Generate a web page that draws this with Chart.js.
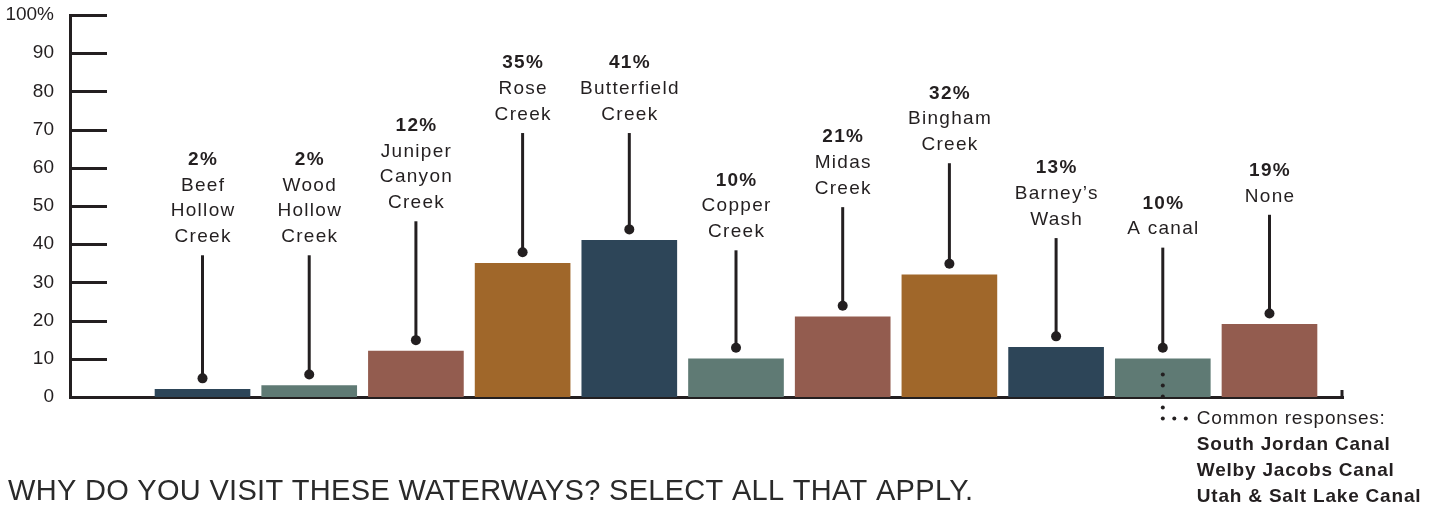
<!DOCTYPE html>
<html lang="en">
<head>
  <meta charset="UTF-8">
  <title>Why do you visit these waterways?</title>
  <script src="https://cdn.jsdelivr.net/npm/chart.js"></script>
  <style>
    body { margin: 0; background: #fff; }
  </style>
</head>
<body>
  <canvas id="waterwayChart" width="1438" height="508"></canvas>

  <script>
    // survey data
    const waterways = [
      ['Beef', 'Hollow', 'Creek'],
      ['Wood', 'Hollow', 'Creek'],
      ['Juniper', 'Canyon', 'Creek'],
      ['Rose', 'Creek'],
      ['Butterfield', 'Creek'],
      ['Copper', 'Creek'],
      ['Midas', 'Creek'],
      ['Bingham', 'Creek'],
      ['Barney\u2019s', 'Wash'],
      ['A canal'],
      ['None']
    ];
    const shares = [2, 3, 12, 35, 41, 10, 21, 32, 13, 10, 19];
    const shareLabels = ['2%', '2%', '12%', '35%', '41%', '10%', '21%', '32%', '13%', '10%', '19%'];
    // where each leader line starts (in % units on the value axis)
    const leaderTops = [37.1, 37.1, 46.0, 69.1, 69.1, 38.4, 49.7, 61.2, 41.6, 39.1, 47.7];
    const barColors = ['#2d4558', '#5f7a74', '#935c4f', '#a0672a', '#2d4558', '#5f7a74',
                       '#935c4f', '#a0672a', '#2d4558', '#5f7a74', '#935c4f'];
    const yTicks = [0, 10, 20, 30, 40, 50, 60, 70, 80, 90, 100];
    const canalIndex = 9;
    const canalNote = 'Common responses:';
    const canals = ['South Jordan Canal', 'Welby Jacobs Canal', 'Utah & Salt Lake Canal'];
    const question = 'WHY DO YOU VISIT THESE WATERWAYS? SELECT ALL THAT APPLY.';

    const ink = '#231f20';
    const face = '"Liberation Sans", Arial, sans-serif';

    const annotate = {
      id: 'annotate',
      afterDraw(chart) {
        const { ctx, scales: { x, y } } = chart;
        const base = y.getPixelForValue(0);
        ctx.save();
        ctx.strokeStyle = ink;
        ctx.fillStyle = ink;
        ctx.lineWidth = 3;

        // tick marks pointing into the plot
        yTicks.forEach(v => {
          const py = Math.round(y.getPixelForValue(v)) + 0.5;
          ctx.beginPath();
          ctx.moveTo(x.left, py);
          ctx.lineTo(x.left + 37, py);
          ctx.stroke();
        });

        // little end tick on the baseline
        ctx.beginPath();
        ctx.moveTo(x.right - 1, base + 1);
        ctx.lineTo(x.right - 1, base - 7);
        ctx.stroke();

        // leader lines + labels
        ctx.textAlign = 'center';
        ctx.textBaseline = 'middle';
        ctx.letterSpacing = '1.3px';
        shares.forEach((v, i) => {
          const cx = x.getPixelForValue(i);
          const top = y.getPixelForValue(leaderTops[i]);
          const dot = y.getPixelForValue(v) - 11;

          ctx.lineWidth = 3;
          ctx.beginPath();
          ctx.moveTo(cx, top);
          ctx.lineTo(cx, dot);
          ctx.stroke();
          ctx.beginPath();
          ctx.arc(cx, dot, 5, 0, Math.PI * 2);
          ctx.fill();

          const names = waterways[i];
          let ty = top - 18.5;
          ctx.font = '19px ' + face;
          for (let k = names.length - 1; k >= 0; k--) {
            ctx.fillText(names[k], cx + 0.6, ty);
            ty -= 25.7;
          }
          ctx.font = 'bold 19px ' + face;
          ctx.fillText(shareLabels[i], cx + 0.6, ty);
        });

        // dotted callout from "A canal"
        const ax = x.getPixelForValue(canalIndex);
        for (let k = -2; k <= 2; k++) {
          ctx.beginPath();
          ctx.arc(ax, base + k * 11 - 0.5, 2, 0, Math.PI * 2);
          ctx.fill();
        }
        for (let k = 1; k <= 2; k++) {
          ctx.beginPath();
          ctx.arc(ax + k * 11.5, base + 21.5, 2, 0, Math.PI * 2);
          ctx.fill();
        }
        ctx.textAlign = 'left';
        ctx.letterSpacing = '0.8px';
        ctx.font = '19px ' + face;
        ctx.fillText(canalNote, ax + 34, base + 21.5);
        ctx.font = 'bold 19px ' + face;
        canals.forEach((c, k) => ctx.fillText(c, ax + 34, base + 47.5 + k * 26));

        // question
        ctx.textBaseline = 'alphabetic';
        ctx.fillStyle = '#2a2a2a';
        ctx.letterSpacing = '0.3px';
        ctx.font = '29px ' + face;
        ctx.fillText(question, 8, 500);
        ctx.restore();
      }
    };

    const chart = new Chart(document.getElementById('waterwayChart'), {
      type: 'bar',
      data: {
        datasets: [{
          data: shares.map((v, i) => ({ x: i, y: v })),
          backgroundColor: barColors,
          barThickness: 95,
          borderWidth: 0
        }]
      },
      options: {
        responsive: false,
        animation: false,
        layout: { padding: { top: 15, right: 95, bottom: 111, left: 0 } },
        plugins: { legend: { display: false }, tooltip: { enabled: false } },
        scales: {
          x: {
            type: 'linear',
            min: -1.242,
            max: 10.689,
            offset: false,
            grid: { display: false, drawTicks: false, offset: false },
            ticks: { display: false },
            border: { display: true, color: ink, width: 3 },
            afterFit(scale) { scale.height = 0; }
          },
          y: {
            min: 0,
            max: 100,
            ticks: {
              stepSize: 10,
              padding: 16,
              color: ink,
              font: { family: face, size: 19 },
              callback: v => (v === 100 ? '100%' : v)
            },
            grid: { display: false, drawTicks: false },
            border: { display: true, color: ink, width: 3 },
            afterFit(scale) {
              scale.width = 70;
              scale.paddingTop = 0;
              scale.paddingBottom = 0;
            }
          }
        }
      },
      plugins: [annotate]
    });
  </script>
</body>
</html>
